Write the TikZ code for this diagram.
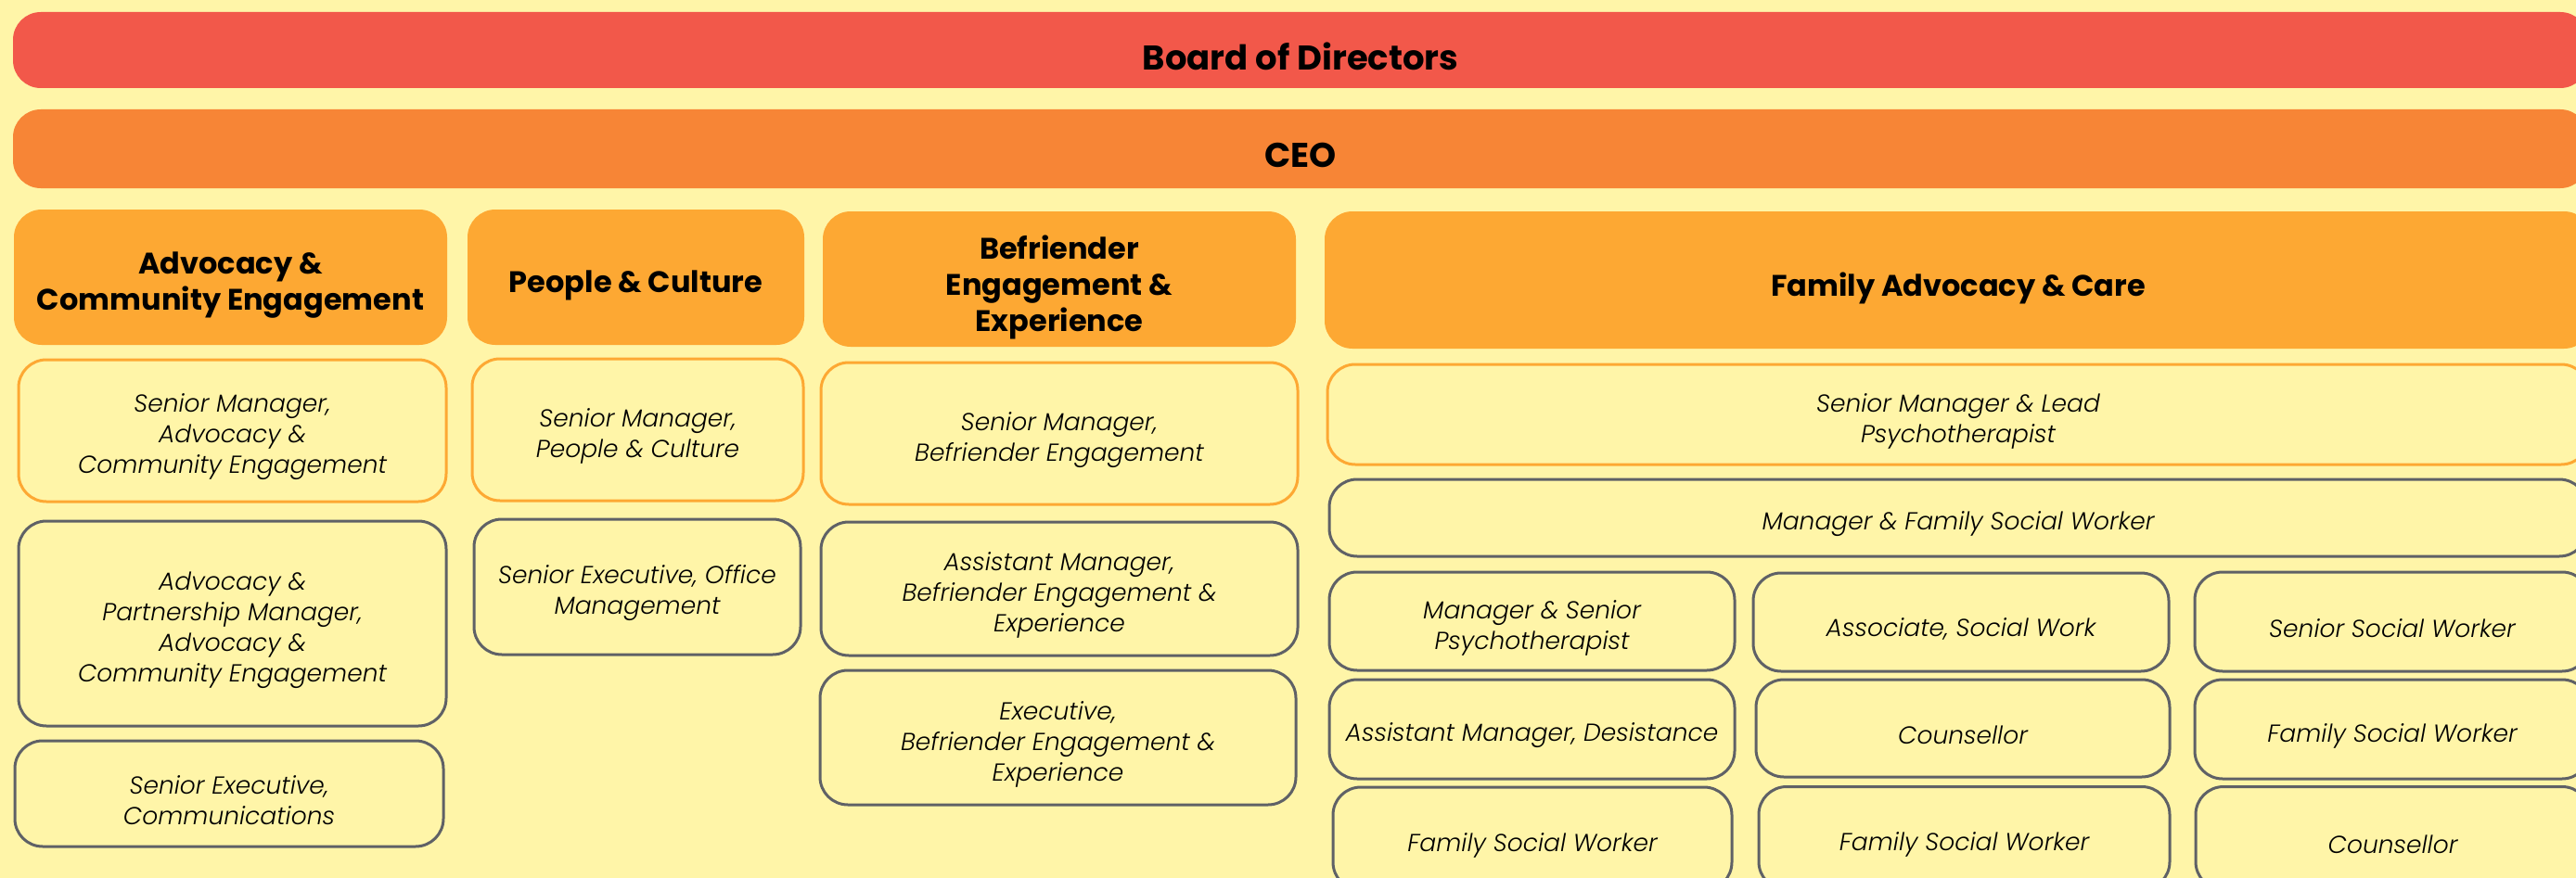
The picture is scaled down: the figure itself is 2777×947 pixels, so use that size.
\documentclass[tikz,border=0pt]{standalone}
\usepackage{fontspec}
\setmainfont{Poppins}[UprightFont=* Light, ItalicFont=* Light Italic, BoldFont=* Bold]
\definecolor{bg}{HTML}{FFF5A8}
\definecolor{boardc}{HTML}{F2584A}
\definecolor{ceoc}{HTML}{F78536}
\definecolor{amber}{HTML}{FDA833}
\definecolor{graybd}{HTML}{5F6166}
% #1 style, #2 name, #3 x, #4 y, #5 width, #6 height, #7 text
\newcommand\orgbox[7]{%
  \node[#1, minimum width=#5pt, minimum height=#6pt] (#2) at (#3,#4) {};
  \node[#1txt] (#2-t) at (#2.center) {#7};}
\begin{document}
\begin{tikzpicture}[x=1pt,y=-1pt,
  base/.style={rounded corners=30pt, inner sep=0pt},
  boardbox/.style={base, fill=boardc},
  ceobox/.style={base, fill=ceoc},
  boardboxtxt/.style={align=center, inner sep=0pt, yshift=-7pt, font=\fontsize{37}{44}\selectfont\bfseries},
  ceoboxtxt/.style={boardboxtxt},
  hdr/.style={base, fill=amber},
  hdrtxt/.style={align=center, inner sep=0pt, yshift=-9pt, font=\fontsize{32}{39}\selectfont\bfseries},
  lead/.style={base, draw=amber, line width=3pt},
  leadtxt/.style={align=center, inner sep=0pt, yshift=-7pt, font=\fontsize{26.5}{33}\selectfont\itshape},
  staff/.style={base, draw=graybd, line width=3pt},
  stafftxt/.style={leadtxt}]
\useasboundingbox (0,0) rectangle (2777,947);
\clip (0,0) rectangle (2777,947);
\fill[bg] (0,0) rectangle (2777,947);
% top levels
\orgbox{boardbox}{board}{1402}{54}{2776}{82}{Board of Directors}
\orgbox{ceobox}{ceo}{1402}{160.5}{2776}{85}{CEO}
% department headers
\orgbox{hdr}{adv}{248.5}{299}{467}{146}{Advocacy \&\\Community Engagement}
\orgbox{hdr}{ppl}{685.5}{299}{363}{146}{People \& Culture}
\orgbox{hdr}{bef}{1142}{301}{510}{146}{Befriender\\Engagement \&\\Experience}
\orgbox{hdr}{fam}{2111}{302}{1366}{148}{Family Advocacy \& Care}
% column 1
\orgbox{lead}{smadv}{250.5}{464.5}{461}{153}{Senior Manager,\\Advocacy \&\\Community Engagement}
\orgbox{staff}{apm}{250.5}{672.5}{461}{221}{Advocacy \&\\Partnership Manager,\\Advocacy \&\\Community Engagement}
\orgbox{staff}{sec}{247}{856}{462}{114}{Senior Executive,\\Communications}
% column 2
\orgbox{lead}{smpc}{687.5}{463.5}{357}{153}{Senior Manager,\\People \& Culture}
\orgbox{staff}{seom}{687}{633}{352}{146}{Senior Executive, Office\\Management}
% column 3
\orgbox{lead}{smbe}{1142}{467.5}{514}{153}{Senior Manager,\\Befriender Engagement}
\orgbox{staff}{ambe}{1142}{635}{514}{144}{Assistant Manager,\\Befriender Engagement \&\\Experience}
\orgbox{staff}{exbe}{1140.5}{795.5}{513}{145}{Executive,\\Befriender Engagement \&\\Experience}
% column 4
\orgbox{lead}{smlp}{2111}{447}{1360}{108}{Senior Manager \& Lead\\Psychotherapist}
\orgbox{staff}{mfsw}{2111}{558.5}{1356}{83}{Manager \& Family Social Worker}
\orgbox{staff}{msp}{1651.5}{670}{437}{106}{Manager \& Senior\\Psychotherapist}
\orgbox{staff}{asw}{2114}{671}{448}{106}{Associate, Social Work}
\orgbox{staff}{ssw}{2579}{670.5}{426}{107}{Senior Social Worker}
\orgbox{staff}{amd}{1651.5}{786.5}{437}{107}{Assistant Manager, Desistance}
\orgbox{staff}{cns}{2116}{785.5}{446}{105}{Counsellor}
\orgbox{staff}{fsw1}{2579}{786.5}{426}{107}{Family Social Worker}
\orgbox{staff}{fsw2}{1652}{904.5}{430}{111}{Family Social Worker}
\orgbox{staff}{fsw3}{2117.5}{904}{443}{111}{Family Social Worker}
\orgbox{staff}{cns2}{2579.5}{904}{425}{111}{Counsellor}
\end{tikzpicture}
\end{document}
